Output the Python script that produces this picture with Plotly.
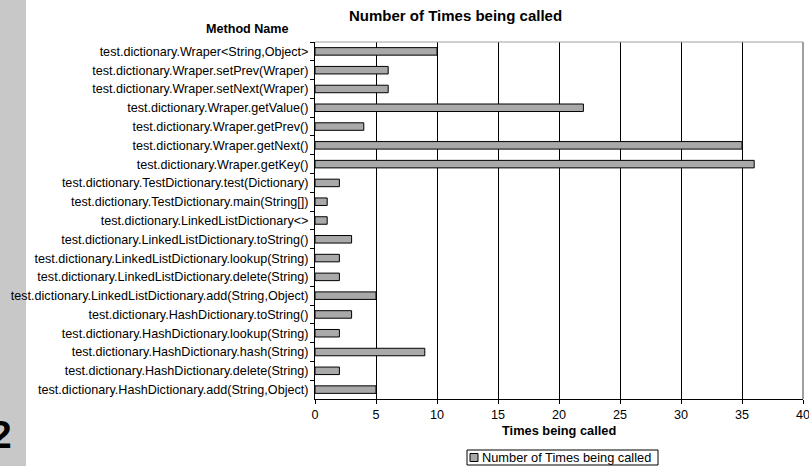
import plotly.graph_objects as go

# Method names, listed top to bottom as they appear on the chart
methods = [
    "test.dictionary.Wraper<String,Object>",
    "test.dictionary.Wraper.setPrev(Wraper)",
    "test.dictionary.Wraper.setNext(Wraper)",
    "test.dictionary.Wraper.getValue()",
    "test.dictionary.Wraper.getPrev()",
    "test.dictionary.Wraper.getNext()",
    "test.dictionary.Wraper.getKey()",
    "test.dictionary.TestDictionary.test(Dictionary)",
    "test.dictionary.TestDictionary.main(String[])",
    "test.dictionary.LinkedListDictionary<>",
    "test.dictionary.LinkedListDictionary.toString()",
    "test.dictionary.LinkedListDictionary.lookup(String)",
    "test.dictionary.LinkedListDictionary.delete(String)",
    "test.dictionary.LinkedListDictionary.add(String,Object)",
    "test.dictionary.HashDictionary.toString()",
    "test.dictionary.HashDictionary.lookup(String)",
    "test.dictionary.HashDictionary.hash(String)",
    "test.dictionary.HashDictionary.delete(String)",
    "test.dictionary.HashDictionary.add(String,Object)",
]

# Call counts per method
call_counts = [10, 6, 6, 22, 4, 35, 36, 2, 1, 1, 3, 2, 2, 5, 3, 2, 9, 2, 5]

x_ticks = [0, 5, 10, 15, 20, 25, 30, 35, 40]

series_name = "Number of Times being called"

FONT = "Liberation Sans, Arial, sans-serif"
BAR_FILL = "#a9a9a9"
TXT = 12.6

# Pixel layout of the canvas
W, H = 809, 466
ML, MR, MT, MB = 315, 6, 42, 67
PW = W - ML - MR
PH = H - MT - MB


def px_x(px):
    return (px - ML) / PW


def px_y(py):
    return (H - MB - py) / PH


fig = go.Figure()
fig.add_trace(go.Bar(
    x=call_counts,
    y=methods,
    orientation="h",
    width=0.4,
    name=series_name,
    marker=dict(color=BAR_FILL, line=dict(color="#000000", width=1)),
    showlegend=False,
))

fig.update_layout(
    width=W,
    height=H,
    margin=dict(l=ML, r=MR, t=MT, b=MB, pad=0, autoexpand=False),
    paper_bgcolor="white",
    plot_bgcolor="white",
    font=dict(family=FONT, size=TXT, color="#000000"),
    showlegend=False,
    xaxis=dict(
        range=[0, 40],
        tickvals=x_ticks,
        ticktext=[str(v) for v in x_ticks],
        showgrid=True, gridcolor="#000000", gridwidth=1,
        zeroline=False,
        showline=True, linecolor="#000000", linewidth=1,
        ticks="outside", ticklen=4, tickcolor="#000000",
        tickfont=dict(family=FONT, size=TXT),
        ticklabeloverflow="allow",
        fixedrange=True,
    ),
    yaxis=dict(
        autorange="reversed",
        type="category",
        showgrid=False,
        zeroline=False,
        showline=True, linecolor="#000000", linewidth=1,
        ticks="outside", ticklen=4, tickcolor="#000000",
        tickson="boundaries",
        ticklabelstandoff=3,
        tickfont=dict(family=FONT, size=TXT),
        fixedrange=True,
    ),
    bargap=0.6,
)

# Gray plot frame on top and right
fig.add_shape(type="line", xref="paper", yref="paper", x0=0, x1=1, y0=1, y1=1,
              line=dict(color="#a0a0a0", width=1), layer="above")
fig.add_shape(type="line", xref="paper", yref="paper", x0=1, x1=1, y0=0, y1=1,
              line=dict(color="#a0a0a0", width=2), layer="above")

# Gray strip along the left edge
fig.add_shape(type="rect", xref="paper", yref="paper",
              x0=px_x(0), x1=px_x(26), y0=px_y(H), y1=px_y(0),
              fillcolor="#c8c8c8", line=dict(width=0), layer="below")

# Legend: bordered box with a swatch and the series name
fig.add_shape(type="rect", xref="paper", yref="paper",
              x0=px_x(467), x1=px_x(658), y0=px_y(465), y1=px_y(450),
              fillcolor="white", line=dict(color="#000000", width=1))
fig.add_shape(type="rect", xref="paper", yref="paper",
              x0=px_x(470), x1=px_x(478), y0=px_y(461.5), y1=px_y(453.5),
              fillcolor=BAR_FILL, line=dict(color="#000000", width=1))
fig.add_annotation(text=series_name, xref="paper", yref="paper",
                   x=px_x(480), y=px_y(457.5), xanchor="left", yanchor="middle",
                   showarrow=False, font=dict(family=FONT, size=12.8))

annotations = [
    dict(text="<b>Number of Times being called</b>", x=px_x(455), y=px_y(15),
         size=15),
    dict(text="<b>Method Name</b>", x=px_x(247), y=px_y(29), size=12.6),
    dict(text="<b>Times being called</b>", x=px_x(559), y=px_y(431), size=12.8),
    dict(text="<b>2</b>", x=px_x(14), y=px_y(434), xanchor="right", size=39),
]
for a in annotations:
    fig.add_annotation(text=a["text"], xref="paper", yref="paper",
                       x=a["x"], y=a["y"], xanchor=a.get("xanchor", "center"),
                       yanchor="middle", showarrow=False,
                       font=dict(family=FONT, size=a["size"], color="#000000"))

fig.write_html("out.html")
